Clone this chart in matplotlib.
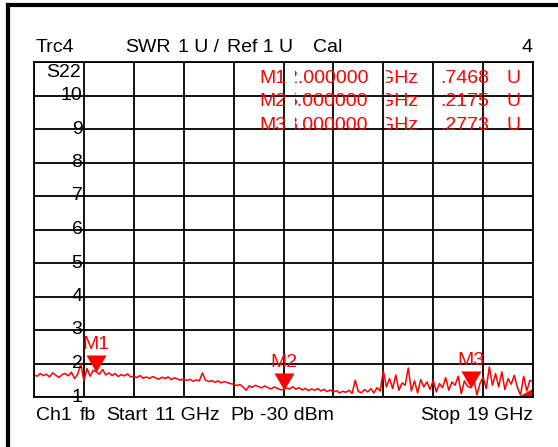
import numpy as np
import matplotlib.pyplot as plt
from matplotlib.path import Path
from matplotlib.lines import Line2D
from matplotlib.transforms import Bbox, blended_transform_factory

plt.rcParams["font.family"] = ["Liberation Sans", "DejaVu Sans"]
plt.rcParams["font.size"] = 14

W, H = 558, 447
start_ghz, stop_ghz = 11.0, 19.0
y_min, y_max = 1, 11

# S22 SWR trace, one value every 0.05 GHz
swr = [
    1.66, 1.62, 1.70, 1.64, 1.68, 1.60, 1.72, 1.65, 1.58, 1.67, 1.70, 1.63, 1.74, 1.55, 1.68, 1.98,
    1.48, 1.85, 1.62, 1.80, 1.75, 1.68, 1.82, 1.66, 1.72, 1.64, 1.70, 1.61, 1.67, 1.63, 1.69, 1.60,
    1.62, 1.58, 1.64, 1.56, 1.60, 1.55, 1.61, 1.57, 1.53, 1.59, 1.55, 1.60, 1.52, 1.57, 1.54, 1.50,
    1.55, 1.49, 1.53, 1.47, 1.51, 1.48, 1.72, 1.50, 1.46, 1.49, 1.44, 1.48, 1.42, 1.46, 1.43, 1.40,
    1.38, 1.34, 1.37, 1.30, 1.20, 1.33, 1.29, 1.35, 1.31, 1.27, 1.33, 1.28, 1.24, 1.30, 1.26, 1.22,
    1.22, 1.27, 1.24, 1.31, 1.23, 1.28, 1.21, 1.26, 1.19, 1.24, 1.20, 1.25, 1.18, 1.23, 1.16, 1.21,
    1.15, 1.19, 1.12, 1.17, 1.14, 1.20, 1.11, 1.50, 1.16, 1.13, 1.22, 1.15, 1.25, 1.12, 1.28, 1.18,
    1.78, 1.30, 1.55, 1.25, 1.66, 1.20, 1.42, 1.35, 1.87, 1.18, 1.48, 1.12, 1.52, 1.30, 1.45, 1.22,
    1.50, 1.15, 1.40, 1.28, 1.58, 1.20, 1.45, 1.35, 1.62, 1.10, 1.48, 1.32, 1.28, 1.55, 1.06, 1.40,
    1.60, 1.25, 1.90, 1.35, 1.70, 1.30, 1.75, 1.22, 1.55, 1.38, 1.65, 1.28, 1.06, 1.62, 1.18, 1.50, 1.45,
]
freq = np.linspace(start_ghz, stop_ghz, len(swr))

marker_names = ["M1", "M2", "M3"]
marker_freq = [12.0, 15.0, 18.0]
marker_val = [1.7468, 1.2175, 1.2773]

red = "#ff0000"

fig = plt.figure(figsize=(W / 100, H / 100), dpi=100)
ax = fig.add_axes([34 / W, 50 / H, 499 / W, 335 / H])
ax.set_xlim(start_ghz, stop_ghz)
ax.set_ylim(y_min, y_max)
ax.set_xticks(np.linspace(start_ghz, stop_ghz, 11))
ax.set_yticks(range(y_min, y_max + 1))
ax.grid(True, color="black", lw=1.3)
ax.tick_params(length=0, labelbottom=False, labelleft=False)
for s in ax.spines.values():
    s.set_color("black")
    s.set_linewidth(1.3)

# scale labels drawn inside the grid
tr = blended_transform_factory(ax.transAxes, ax.transData)
for v in range(1, 11):
    ax.text(0.097, v, str(v), transform=tr, ha="right", va="center")
ax.text(0.093, 10.7, "S22", transform=tr, ha="right", va="center")

ax.plot(freq, swr, color=red, lw=1.1, clip_on=False)

tri = Path([(-0.59, 1), (0.59, 1), (0, 0), (-0.59, 1)])
ax.plot(marker_freq, marker_val, ls="none", marker=tri, ms=24.5,
        color=red, mew=0, clip_on=False)
for n, f, v in zip(marker_names, marker_freq, marker_val):
    ax.annotate(n, (f, v), xytext=(0, 27), textcoords="offset pixels",
                ha="center", va="center", color=red)

# marker-at-edge wedge in the lower right corner
wedge = Path([(0, 0), (-1, 0), (0, 0.56), (0, 0)])
ax.plot([stop_ghz], [y_min], ls="none", marker=wedge, ms=23, color=red,
        mew=0, clip_on=False)


def ftext(x, y, s, ha="left", color="black", clip_x=None):
    t = fig.text(x / W, 1 - y / H, s, ha=ha, va="baseline", color=color)
    if clip_x is not None:
        t.set_clip_box(Bbox.from_extents(clip_x, 0, W, H))
        t.set_clip_on(True)
    return t


# header
ftext(36, 52, "Trc4")
ftext(125, 52, "SWR")
ftext(178, 52, "1 U /")
ftext(227, 52, "Ref 1 U")
ftext(313, 52, "Cal")
ftext(533, 52, "4", ha="right")

# marker table (fields overlap each other on the analyzer screen)
for i, (n, f, v) in enumerate(zip(marker_names, marker_freq, marker_val)):
    y = 83 + i * 23.5
    ftext(259, y, n, color=red)
    ftext(368, y, f"{f:.6f}"[1:], ha="right", color=red, clip_x=295)
    ftext(418, y, "GHz", ha="right", color=red, clip_x=386)
    ftext(489, y, f"{v:.4f}"[1:], ha="right", color=red)
    ftext(507, y, "U", color=red)

# footer
ftext(36, 420, "Ch1")
ftext(80, 420, "fb")
ftext(106, 420, "Start")
ftext(155, 420, "11 GHz")
ftext(230, 420, "Pb")
ftext(260, 420, "-30 dBm")
ftext(420, 420, "Stop")
ftext(533, 420, "19 GHz", ha="right")

# outer frame
fig.add_artist(Line2D([8 / W, 8 / W], [0, 1 - 5 / H], color="black", lw=3,
                      transform=fig.transFigure))
fig.add_artist(Line2D([8 / W, 1], [1 - 5 / H, 1 - 5 / H], color="black", lw=3,
                      transform=fig.transFigure))

fig.savefig("out.png", dpi=100)
